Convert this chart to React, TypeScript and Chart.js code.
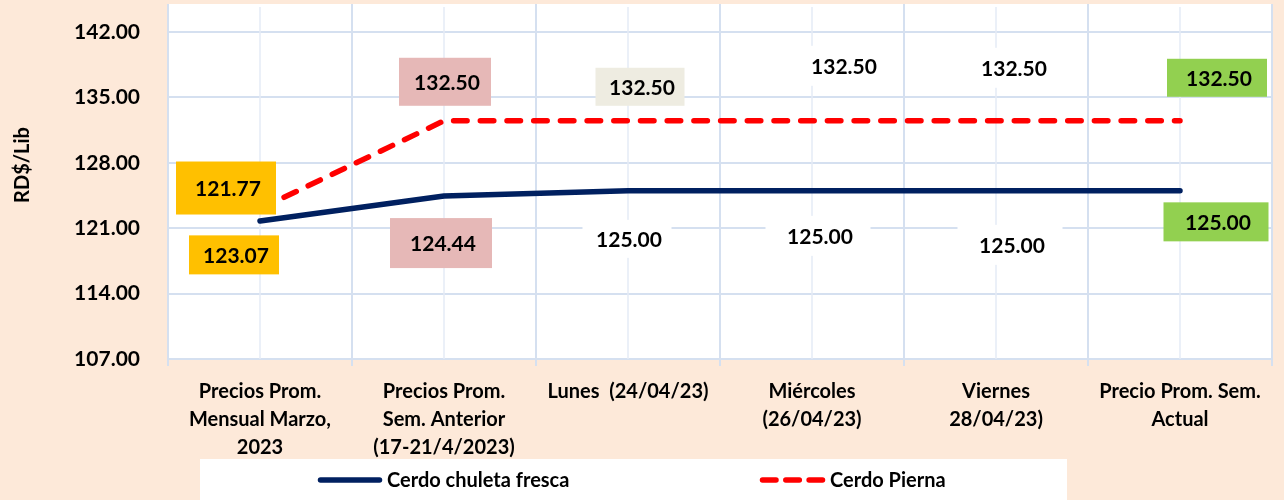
import React, { useEffect, useRef } from "react";
import { Chart, registerables } from "chart.js";

Chart.register(...registerables);

const categories: string[][] = [
  ["Precios Prom.", "Mensual Marzo,", "2023"],
  ["Precios Prom.", "Sem. Anterior", "(17-21/4/2023)"],
  ["Lunes  (24/04/23)"],
  ["Miércoles", "(26/04/23)"],
  ["Viernes", "28/04/23)"],
  ["Precio Prom. Sem.", "Actual"],
];
const chuleta = [121.77, 124.44, 125.0, 125.0, 125.0, 125.0];
const pierna = [123.07, 132.5, 132.5, 132.5, 132.5, 132.5];
const yTicks = [107, 114, 121, 128, 135, 142];
const yMin = 107;
const yMax = 145;
const seriesNames = ["Cerdo chuleta fresca", "Cerdo Pierna"];
const yTitle = "RD$/Lib";

const FONT = "Lato, 'Open Sans', sans-serif";
const WEIGHT = "bold";
const PEACH = "#FDE9D9";
const GRID = "#D5E0F0";
const GRID_LIGHT = "#E4EBF6";
const NAVY = "#002060";
const RED = "#FF0000";

// label decoration (styles / offsets from each point)
const labelStyles = [
  {
    bg: ["#FFC000", "#E6B8B7", "#FFFFFF", "#FFFFFF", "#FFFFFF", "#92D050"],
    dx: [-34, -3, -1, 6, 14, 36],
    dy: [-33, 47, 48, 45, 54, 31],
    w: [100, 102, 89, 105, 105, 105],
    h: [53, 50, 38, 40, 40, 39],
  },
  {
    bg: ["#FFC000", "#E6B8B7", "#EEECE1", "#FFFFFF", "#FFFFFF", "#92D050"],
    dx: [-26, 1, 12, 30, 16, 37],
    dy: [46, -39, -34, -55, -53, -43],
    w: [90, 92, 89, 90, 90, 100],
    h: [39, 48, 38, 40, 40, 38],
  },
];

const decorPlugin = {
  id: "decor",
  beforeDraw(chart: any) {
    const { ctx, chartArea: a, width, height } = chart;
    ctx.save();
    ctx.fillStyle = PEACH;
    ctx.fillRect(0, 0, width, height);
    ctx.fillStyle = "#FFFFFF";
    ctx.fillRect(a.left, a.top, a.right - a.left, a.bottom - a.top);
    ctx.fillRect(200, 459, 867, 41);
    ctx.restore();
  },
  beforeDatasetsDraw(chart: any) {
    const { ctx, chartArea: a } = chart;
    const xs = chart.scales.x;
    ctx.save();
    ctx.strokeStyle = GRID_LIGHT;
    ctx.lineWidth = 1.5;
    for (let i = 0; i < categories.length; i++) {
      const px = xs.getPixelForValue(i);
      ctx.beginPath();
      ctx.moveTo(px, a.top + 3);
      ctx.lineTo(px, a.bottom);
      ctx.stroke();
    }
    ctx.restore();
  },
  afterDatasetsDraw(chart: any) {
    const { ctx } = chart;
    ctx.save();
    ctx.font = `${WEIGHT} 21px ${FONT}`;
    ctx.textAlign = "center";
    ctx.textBaseline = "middle";
    chart.data.datasets.forEach((ds: any, d: number) => {
      const meta = chart.getDatasetMeta(d);
      const st = labelStyles[d];
      meta.data.forEach((pt: any, i: number) => {
        const cx = pt.x + st.dx[i];
        const cy = pt.y + st.dy[i];
        ctx.fillStyle = st.bg[i];
        ctx.fillRect(cx - st.w[i] / 2, cy - st.h[i] / 2, st.w[i], st.h[i]);
        ctx.fillStyle = "#000000";
        ctx.fillText(Number(ds.data[i]).toFixed(2), cx + 2, cy + 1);
      });
    });
    ctx.restore();
  },
  afterDraw(chart: any) {
    const { ctx } = chart;
    ctx.save();
    ctx.font = `${WEIGHT} 20px ${FONT}`;
    ctx.fillStyle = "#000000";
    ctx.textAlign = "center";
    ctx.textBaseline = "middle";
    ctx.translate(23, 165);
    ctx.rotate(-Math.PI / 2);
    ctx.fillText(yTitle, 0, 0);
    ctx.restore();

    const items = [
      { x0: 318, x1: 382, tx: 387 },
      { x0: 760, x1: 825, tx: 830 },
    ];
    ctx.save();
    ctx.font = `${WEIGHT} 20px ${FONT}`;
    ctx.textAlign = "left";
    ctx.textBaseline = "middle";
    chart.data.datasets.forEach((ds: any, d: number) => {
      const it = items[d];
      const y = 480;
      ctx.strokeStyle = ds.borderColor;
      ctx.lineWidth = 5.5;
      ctx.lineCap = "round";
      ctx.setLineDash(d === 1 ? [13.5, 9.8] : []);
      ctx.beginPath();
      ctx.moveTo(it.x0 + 2.5, y);
      ctx.lineTo(it.x1 - 2.5, y);
      ctx.stroke();
      ctx.setLineDash([]);
      ctx.fillStyle = "#000000";
      ctx.fillText(ds.label, it.tx, y + 1);
    });
    ctx.restore();
  },
};

export default function App() {
  const ref = useRef<HTMLCanvasElement | null>(null);

  useEffect(() => {
    if (!ref.current) return;
    const chart = new Chart(ref.current, {
      type: "line",
      data: {
        labels: categories,
        datasets: [
          {
            label: seriesNames[0],
            data: chuleta,
            borderColor: NAVY,
            backgroundColor: NAVY,
            borderWidth: 5.5,
            borderCapStyle: "round",
            borderJoinStyle: "round",
            pointRadius: 0,
            tension: 0,
          },
          {
            label: seriesNames[1],
            data: pierna,
            borderColor: RED,
            backgroundColor: RED,
            borderWidth: 5.5,
            borderDash: [13.5, 13.2],
            borderCapStyle: "round",
            borderJoinStyle: "round",
            pointRadius: 0,
            tension: 0,
          },
        ],
      },
      options: {
        responsive: false,
        animation: false,
        layout: { padding: { top: 4, right: 12, left: 0, bottom: 0 } },
        plugins: {
          legend: { display: false },
          tooltip: { enabled: false },
        },
        scales: {
          x: {
            type: "category",
            offset: true,
            grid: {
              offset: true,
              color: GRID,
              lineWidth: 2,
              drawTicks: true,
              tickLength: 7,
            },
            border: { display: true, color: GRID, width: 2 },
            ticks: {
              autoSkip: false,
              maxRotation: 0,
              minRotation: 0,
              padding: 12,
              color: "#000000",
              font: { family: FONT, size: 20, weight: WEIGHT, lineHeight: 1.4 },
            },
            afterFit(scale: any) {
              scale.height = 141;
              scale.paddingLeft = 0;
              scale.paddingRight = 0;
              scale.paddingTop = 0;
              scale.paddingBottom = 0;
            },
          },
          y: {
            type: "linear",
            min: yMin,
            max: yMax,
            grid: { color: GRID, lineWidth: 2, drawTicks: false },
            border: { display: false },
            afterBuildTicks(scale: any) {
              scale.ticks = yTicks.map((v) => ({ value: v }));
            },
            ticks: {
              padding: 28,
              color: "#000000",
              font: { family: FONT, size: 21, weight: WEIGHT },
              callback: (v: any) => Number(v).toFixed(2),
            },
            afterFit(scale: any) {
              scale.width = 168;
              scale.paddingTop = 0;
              scale.paddingBottom = 0;
              scale.paddingLeft = 0;
              scale.paddingRight = 0;
            },
          },
        },
      },
      plugins: [decorPlugin],
    });
    return () => chart.destroy();
  }, []);

  return (
    <div style={{ position: "absolute", left: 0, top: 0, width: 1284, height: 500 }}>
      <canvas ref={ref} width={1284} height={500} style={{ display: "block" }} />
    </div>
  );
}
